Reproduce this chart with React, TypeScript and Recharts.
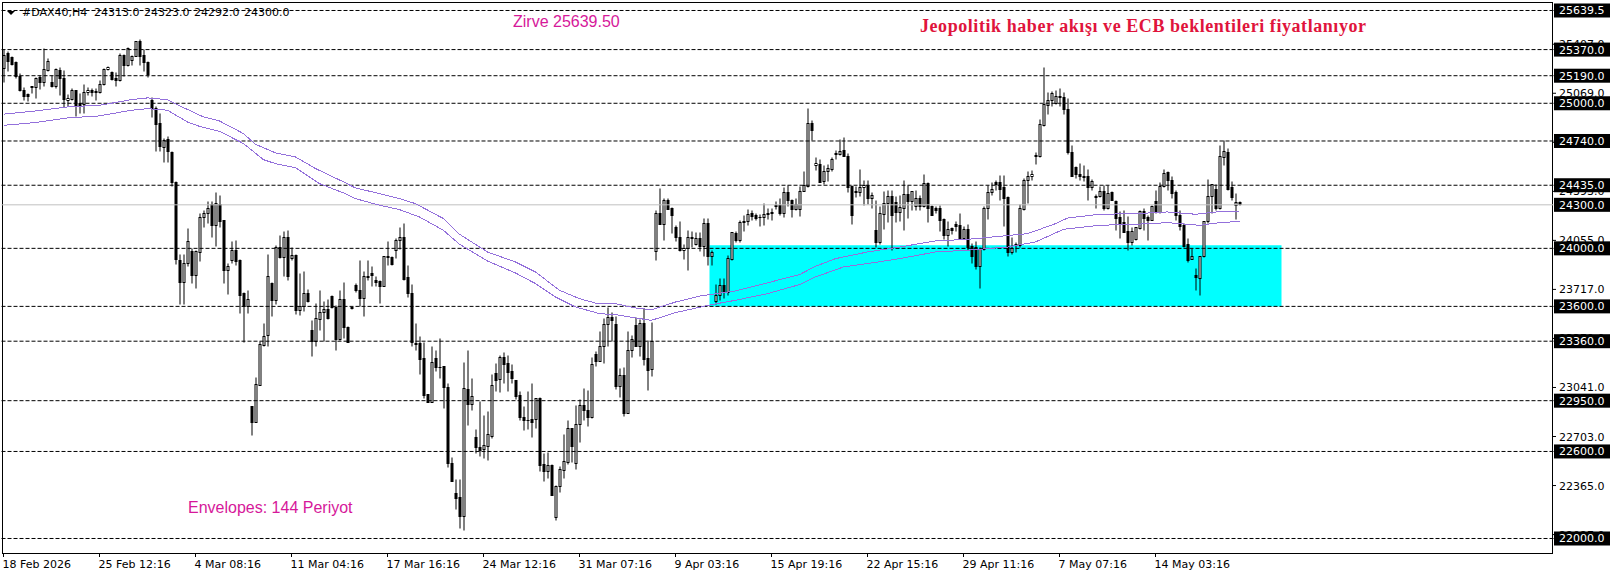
import React from "react";
import { ComposedChart, Bar, Line, XAxis, YAxis, ReferenceLine, ReferenceArea } from "recharts";

const opens = [
25239,25342,25315,25278,25186,25090,25062,25115,25108,25177,
25140,25227,25142,25113,25227,25170,25021,25028,25090,24998,
24993,25071,25090,25083,25076,25126,25232,25214,25170,25154,
25331,25262,25292,25319,25425,25331,25283,25021,24963,24860,
24694,24749,24662,24455,23918,23768,23895,23975,23814,23968,
24212,24239,24304,24159,24304,24189,23849,23913,23987,23918,
23688,23600,22911,22798,23056,23332,23396,23757,23642,24009,
23940,24074,23929,23952,23573,23596,23692,23435,23361,23511,
23557,23577,23669,23591,23371,23646,23453,23589,23745,23711,
23653,23807,23826,23780,23773,23738,23945,23936,23982,24051,
24074,23798,23688,23343,23343,23240,22991,22936,23240,23182,
23187,23040,22516,22309,22286,22155,23026,22922,22695,22626,
22615,22631,22704,23136,23097,23251,23205,23152,23086,22987,
22833,22815,22819,22821,22964,22509,22465,22504,22148,22355,
22470,22527,22757,22516,22785,22918,22883,22837,23267,23223,
23320,23472,23522,23474,23049,23122,22865,23293,23467,23325,
23481,23240,23164,23977,24239,24163,24331,24274,24143,24074,
23982,23996,24074,24028,24067,24014,24170,23945,23637,23674,
23743,23697,23924,24101,24055,24186,24182,24239,24225,24216,
24216,24239,24248,24294,24294,24239,24382,24327,24267,24267,
24389,24428,24864,24568,24579,24458,24527,24543,24655,24648,
24676,24635,24423,24389,24382,24418,24435,24347,24124,24037,
24235,24308,24359,24315,24244,24278,24372,24320,24285,24343,
24285,24446,24285,24274,24274,24200,24090,24134,24166,24159,
24067,24131,24016,24005,23872,23991,24274,24382,24453,24453,
24416,24350,23968,24028,24021,24269,24465,24492,24639,24635,
24848,24986,25016,24998,25048,25039,24956,24660,24554,24510,
24497,24492,24416,24359,24354,24393,24278,24382,24324,24212,
24177,24117,24037,24060,24138,24253,24212,24193,24324,24246,
24428,24524,24469,24382,24228,24159,24028,23922,23812,23793,
23941,24182,24354,24407,24274,24625,24660,24418,24297,24313,
];
const highs = [
25370,25354,25319,25285,25204,25108,25067,25117,25181,25193,
25377,25312,25193,25239,25244,25227,25062,25101,25090,25067,
25131,25108,25101,25101,25158,25239,25255,25218,25209,25342,
25338,25384,25331,25425,25443,25374,25285,25039,24975,24929,
24756,24768,24669,24458,23959,23959,24136,23998,23987,24239,
24262,24320,24320,24384,24366,24193,23895,24044,24051,23922,
23699,23711,22911,23113,23355,23481,23959,23768,24021,24090,
24113,24124,24005,23959,23826,23837,23715,23504,23623,23711,
23637,23646,23676,23607,23711,23768,23458,23589,23757,23918,
23837,23918,23872,23807,23780,23945,24044,23945,24067,24147,
24170,23883,23750,23481,23394,23354,22991,23325,23297,23378,
23187,23067,22557,22405,22405,23212,23297,23102,22750,22941,
22849,22872,23132,23205,23263,23279,23258,23198,23090,23010,
22911,23014,23067,22964,22975,22589,22596,22509,22366,22493,
22718,22815,22757,22918,22957,23033,23021,23251,23286,23424,
23515,23591,23561,23527,23171,23182,23424,23401,23520,23508,
23584,23366,23486,24262,24412,24343,24347,24281,24159,24186,
24026,24124,24117,24106,24108,24205,24205,23987,23750,23791,
23791,23952,24108,24113,24193,24228,24267,24262,24239,24232,
24308,24278,24274,24324,24347,24419,24435,24336,24343,24423,
24527,24963,24878,24625,24614,24568,24579,24625,24676,24749,
24763,24653,24435,24423,24543,24465,24465,24382,24331,24285,
24393,24400,24400,24354,24361,24469,24435,24393,24400,24366,
24510,24453,24297,24285,24297,24205,24182,24147,24182,24239,
24154,24166,24032,24044,24009,24290,24435,24453,24465,24501,
24501,24354,24078,24042,24301,24481,24527,24538,24664,24887,
25246,25071,25078,25085,25101,25071,25032,24710,24565,24584,
24572,24543,24474,24373,24428,24435,24435,24389,24331,24251,
24262,24221,24147,24147,24262,24274,24228,24297,24400,24453,
24543,24533,24497,24396,24262,24170,24067,23998,23860,23945,
24182,24474,24442,24439,24710,24745,24687,24462,24377,24323,
];
const lows = [
25140,25216,25262,25170,25078,25016,25009,25067,25032,25094,
25117,25216,25108,25101,25055,24970,24975,25021,24910,24929,
24929,25055,25044,25021,25067,25122,25227,25158,25117,25147,
25186,25255,25262,25319,25262,25216,25181,24901,24671,24671,
24595,24595,24423,23890,23614,23614,23872,23757,23722,23906,
24147,24170,24078,24014,24147,23757,23683,23895,23883,23550,
23348,23554,22711,22798,23132,23320,23320,23527,23614,23929,
23803,23780,23918,23545,23538,23568,23630,23256,23325,23435,
23361,23508,23584,23293,23366,23378,23348,23580,23699,23596,
23527,23775,23734,23738,23623,23734,23883,23883,23929,23991,
23780,23660,23320,23297,23132,22964,22936,22936,23148,23102,
22895,22488,22396,22199,22068,22056,22780,22883,22589,22566,
22550,22539,22688,23014,23003,23067,23010,23067,22957,22815,
22741,22750,22693,22757,22465,22394,22412,22293,22121,22320,
22412,22511,22527,22477,22665,22815,22775,22826,23189,23223,
23205,23325,23361,23030,22975,22844,22860,23247,23320,23256,
23194,23017,23118,23913,24163,24055,24267,24101,24044,23975,
23924,23849,24009,24021,23975,23945,23883,23883,23614,23642,
23653,23676,23918,24037,24037,24113,24159,24193,24189,24152,
24159,24200,24189,24267,24228,24216,24285,24216,24262,24221,
24389,24416,24740,24534,24453,24442,24458,24527,24614,24641,
24630,24382,24166,24350,24354,24297,24301,24278,24009,24028,
24129,24175,23986,24175,24182,24120,24205,24258,24262,24262,
24281,24175,24228,24239,24113,24062,24014,24094,24113,24062,
24062,23986,23895,23855,23720,23986,24198,24363,24400,24331,
24152,23941,23959,23968,24009,24262,24308,24465,24579,24625,
24841,24924,24975,24993,24979,24924,24648,24492,24481,24465,
24458,24331,24400,24278,24350,24258,24267,24331,24120,24065,
24106,23982,24021,24055,24131,24124,24055,24189,24239,24239,
24419,24396,24343,24193,24120,24009,23899,23922,23711,23672,
23936,24170,24239,24262,24267,24572,24400,24331,24200,24292,
];
const closes = [
25331,25285,25269,25186,25085,25048,25044,25106,25170,25140,
25232,25289,25113,25232,25170,25025,25030,25090,24980,24984,
25071,25090,25071,25076,25131,25232,25246,25163,25154,25331,
25262,25379,25324,25425,25324,25278,25200,24963,24855,24699,
24745,24671,24451,23922,23768,23895,24044,23814,23975,24216,
24239,24274,24159,24308,24182,23849,23872,23987,23906,23676,
23596,23646,22803,23060,23338,23389,23807,23642,24005,23940,
24074,23807,23952,23573,23596,23688,23637,23361,23515,23557,
23577,23515,23591,23371,23646,23453,23348,23584,23706,23653,
23807,23798,23814,23768,23738,23941,23936,23890,24055,24074,
23784,23692,23348,23334,23237,22987,22936,23212,23178,23178,
23040,22516,22396,22274,22155,23033,22922,22982,22624,22608,
22638,22716,23056,23090,23247,23200,23141,23106,22982,22831,
22810,22810,22803,22964,22504,22465,22500,22293,22360,22477,
22532,22757,22631,22785,22918,22879,22837,23198,23221,23325,
23474,23522,23504,23049,23122,22865,23293,23371,23325,23481,
23237,23155,23361,24239,24163,24331,24271,24223,24074,23982,
23998,24074,24065,24067,24014,24170,23945,23973,23674,23743,
23697,23929,24108,24055,24180,24175,24235,24221,24207,24212,
24232,24230,24239,24285,24239,24382,24327,24271,24301,24389,
24435,24860,24809,24584,24453,24531,24550,24612,24646,24671,
24630,24418,24223,24382,24418,24435,24347,24366,24037,24239,
24308,24359,24223,24244,24281,24370,24320,24389,24343,24285,
24446,24278,24228,24262,24193,24090,24131,24120,24154,24067,
24131,24009,23941,23876,23991,24276,24384,24405,24442,24405,
24343,23968,23998,24019,24276,24469,24497,24508,24630,24855,
24993,25016,25067,25048,25037,24956,24658,24497,24510,24492,
24485,24416,24460,24350,24393,24278,24377,24331,24209,24170,
24108,24037,24113,24143,24253,24209,24189,24285,24246,24428,
24515,24465,24377,24223,24154,24016,23918,23945,23798,23945,
24182,24359,24437,24274,24635,24669,24407,24350,24313,24300,
];

const upperIdx = [0,8,16,24,32,36,41,45,50,54,60,63,68,73,78,85,88,93,99,103,110,114,121,128,133,139,144,148,153,158,162,168,174,183,199,203,208,216,224,233,241,249,256,263,266,274,283,291,298,304,309];
const upperVal = [24925,24947,24975,24986,25025,25037,25025,24970,24906,24878,24791,24717,24658,24630,24550,24458,24416,24384,24343,24308,24205,24097,23975,23906,23837,23711,23653,23623,23619,23589,23577,23630,23671,23706,23819,23876,23929,23975,24009,24051,24062,24083,24101,24170,24209,24235,24239,24251,24235,24253,24256];
const lowerIdx = [0,8,16,24,32,36,41,46,49,54,60,65,68,73,79,85,88,93,99,104,110,114,121,128,133,138,143,149,153,158,162,168,177,183,191,199,203,210,216,224,233,241,251,258,265,274,283,291,299,304,309];
const lowerVal = [24848,24867,24899,24913,24952,24963,24952,24871,24841,24807,24722,24611,24584,24556,24446,24382,24343,24304,24267,24216,24124,24028,23913,23830,23757,23665,23596,23550,23543,23520,23504,23557,23612,23642,23688,23750,23803,23872,23895,23929,23975,23987,24009,24044,24131,24159,24166,24177,24159,24177,24186];

const levels = [25639.5,25370,25190,25000,24740,24435,24000,23600,23360,22950,22600,22000];
const lastPrice = 24300;
const priceTicks = [25407,25069,24731,24393,24055,23717,23379,23041,22703,22365,22027];
const timeIdx = [0,24,48,72,96,120,144,168,192,216,240,264,288];
const timeLabels = ["18 Feb 2026","25 Feb 12:16","4 Mar 08:16","11 Mar 04:16","17 Mar 16:16","24 Mar 12:16","31 Mar 07:16","9 Apr 03:16","15 Apr 19:16","22 Apr 15:16","29 Apr 11:16","7 May 07:16","14 May 03:16"];
const SLOTS = 388;

const boxed = [...levels, lastPrice];
const allTicks = [...priceTicks, ...boxed];

const rows = Array.from({ length: SLOTS }, (_, i) => {
  const has = i < opens.length;
  const u = upperIdx.indexOf(i);
  const l = lowerIdx.indexOf(i);
  return {
    idx: i,
    o: has ? opens[i] : null,
    c: has ? closes[i] : null,
    range: has ? [lows[i], highs[i]] : null,
    upper: u >= 0 ? upperVal[u] : null,
    lower: l >= 0 ? lowerVal[l] : null,
  };
});

const AXIS_FONT = "'DejaVu Sans', sans-serif";
const crisp = (v: number) => Math.round(v - 0.5) + 0.5;

function Candle(props: any) {
  const { x, y, width, height, payload } = props;
  if (!payload || !payload.range || height == null) return null;
  const [lo, hi] = payload.range;
  const cx = x + width / 2;
  const toY = (p: number) => y + ((hi - p) / (hi - lo)) * height;
  const top = crisp(toY(Math.max(payload.o, payload.c)));
  const bot = crisp(toY(Math.min(payload.o, payload.c)));
  const bull = payload.c >= payload.o;
  return (
    <g>
      <line x1={cx} x2={cx} y1={crisp(y)} y2={crisp(y + height)} stroke="#000" strokeWidth={1} />
      <rect x={cx - 1} y={top} width={2} height={Math.max(bot - top, 0.01)} fill={bull ? "#fff" : "#000"} stroke="#000" strokeWidth={1} />
    </g>
  );
}

function TimeTick(props: any) {
  const { x, payload } = props;
  const k = timeIdx.indexOf(payload.value);
  return (
    <g>
      <line x1={x} x2={x} y1={553} y2={557} stroke="#000" />
      <text x={x - 1} y={568} fontFamily={AXIS_FONT} fontSize={11} fill="#000" textAnchor="start">{timeLabels[k]}</text>
    </g>
  );
}

function PriceTick(props: any) {
  const { y, payload } = props;
  const isBox = boxed.includes(payload.value);
  return (
    <g>
      {isBox ? (
        <rect x={1554} y={y - 7} width={56} height={14} fill="#000" />
      ) : (
        <line x1={1553} x2={1556} y1={y} y2={y} stroke="#000" />
      )}
      <text x={1559} y={y + 4} fontFamily={AXIS_FONT} fontSize={11} fill={isBox ? "#fff" : "#000"} textAnchor="start">{payload.value.toFixed(1)}</text>
    </g>
  );
}

export default function App() {
  return (
    <div style={{ position: "absolute", left: 0, top: 0, width: 1616, height: 577, background: "#fff" }}>
      <ComposedChart
        width={1616}
        height={577}
        data={rows}
        margin={{ top: 2.5, right: 0, bottom: 0, left: 1.5 }}
        barCategoryGap={0}
      >
        <XAxis dataKey="idx" type="category" ticks={timeIdx} interval={0} height={23.5} axisLine={false} tickLine={false} tick={<TimeTick />} />
        <YAxis orientation="right" width={62.5} type="number" domain={[21896.6, 25694.6]} allowDataOverflow ticks={allTicks} interval={0} axisLine={false} tickLine={false} tick={<PriceTick />} />
        <ReferenceArea x1={177} x2={319} y1={24022} y2={23600} fill="#00ffff" fillOpacity={1} stroke="none" />
        <ReferenceLine y={lastPrice} stroke="#c0c0c0" strokeWidth={1} />
        {levels.map((v) => (
          <ReferenceLine key={v} y={v} stroke="#000" strokeWidth={1} strokeDasharray="4 2" />
        ))}
        <Bar dataKey="range" barSize={3} isAnimationActive={false} shape={<Candle />} />
        <Line dataKey="upper" stroke="#9370db" strokeWidth={1} dot={false} connectNulls isAnimationActive={false} shapeRendering="crispEdges" />
        <Line dataKey="lower" stroke="#9370db" strokeWidth={1} dot={false} connectNulls isAnimationActive={false} shapeRendering="crispEdges" />
        <rect x={2.5} y={2.5} width={1550} height={551} fill="none" stroke="#000" strokeWidth={1} />
        <path d="M7 11 L15 11 L11 15 Z" fill="#000" />
        <text x={22} y={16} fontFamily={AXIS_FONT} fontSize={11} fill="#000">#DAX40,H4</text>
        <text x={94} y={16} fontFamily={AXIS_FONT} fontSize={11} fill="#000">24313.0</text>
        <text x={144} y={16} fontFamily={AXIS_FONT} fontSize={11} fill="#000">24323.0</text>
        <text x={194} y={16} fontFamily={AXIS_FONT} fontSize={11} fill="#000">24292.0</text>
        <text x={244} y={16} fontFamily={AXIS_FONT} fontSize={11} fill="#000">24300.0</text>
        <text x={513} y={27} fontFamily="'Liberation Sans', sans-serif" fontSize={16} fill="#d6189a">Zirve 25639.50</text>
        <text x={188} y={513} fontFamily="'Liberation Sans', sans-serif" fontSize={16} fill="#d6189a">Envelopes: 144 Periyot</text>
        <text x={920} y={32} fontFamily="'Liberation Serif', serif" fontWeight="bold" fontSize={18} fill="#e0143c" textLength={446} lengthAdjust="spacing">Jeopolitik haber akışı ve ECB beklentileri fiyatlanıyor</text>
      </ComposedChart>
    </div>
  );
}
